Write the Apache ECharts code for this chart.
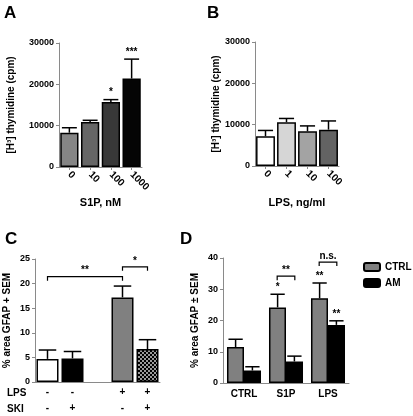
<!DOCTYPE html>
<html><head><meta charset="utf-8">
<script src="https://cdn.jsdelivr.net/npm/echarts@6/dist/echarts.min.js"></script>
<style>html,body{margin:0;padding:0;background:#fff}#c{width:413px;height:416px}</style>
</head><body><div id="c"></div>
<script>
// ---- Panel A ----
const catsA = ['0', '10', '100', '1000'];
const meanA = [8300, 10900, 15700, 21400];
const semA = [1200, 400, 600, 4700];
const starsA = ['', '', '*', '***'];
const colorsA = ['#858585', '#666666', '#383838', '#050505'];
// ---- Panel B ----
const catsB = ['0', '1', '10', '100'];
const meanB = [7200, 10600, 8400, 8800];
const semB = [1400, 900, 1300, 2100];
const colorsB = ['#ffffff', '#d6d6d6', '#a3a3a3', '#636363'];
// ---- Panel C ----
const lpsRow = ['-', '-', '', '+', '+'];
const skiRow = ['-', '+', '', '-', '+'];
const meanC = [4.7, 4.8, '-', 17.2, 6.7];
const semC = [1.8, 1.4, '-', 2.3, 1.9];
const bracketsC = [[0, 3, 21.4], [3, 4, 23.4]];
const bracketLabelsC = ['**', '*'];
// ---- Panel D ----
const catsD = ['CTRL', 'S1P', 'LPS'];
const ctrlD = [11.5, 24.2, 27.1];
const ctrlSemD = [2.5, 4.2, 4.9];
const amD = [4.0, 6.9, 18.6];
const amSemD = [1.2, 1.7, 1.3];
const starsCtrlD = ['', '*', '**'];
const starsAmD = ['', '', '**'];
const bracketsD = [[1, 34.2], [2, 38.7]];
const bracketLabelsD = ['**', 'n.s.'];

const FONT = 'Liberation Sans, Arial, sans-serif';
const AX = '#8a8a8a';

// checker pattern
const pc = document.createElement('canvas');
pc.width = 4; pc.height = 4;
const g = pc.getContext('2d');
g.fillStyle = '#9a9a9a'; g.fillRect(0, 0, 4, 4);
g.fillStyle = '#000'; g.fillRect(0, 0, 2, 2); g.fillRect(2, 2, 2, 2);
const checker = { image: pc, repeat: 'repeat' };
const colorsC = ['#ffffff', '#000000', '#ffffff', '#808080', checker];

function errRender(offset, capFrac, stars) {
  return function (params, api) {
    const x = api.value(0), v = api.value(1), e = api.value(2);
    const bw = api.size([1, 0])[0];
    const p0 = api.coord([x, v]);
    const p1 = api.coord([x, v + e]);
    const cx = p0[0] + offset * bw;
    const half = bw * capFrac / 2;
    const ch = [
      { type: 'line', shape: { x1: cx, y1: p0[1], x2: cx, y2: p1[1] }, style: { stroke: '#000', lineWidth: 1.5 } },
      { type: 'line', shape: { x1: cx - half, y1: p1[1], x2: cx + half, y2: p1[1] }, style: { stroke: '#000', lineWidth: 1.5 } }
    ];
    const s = stars ? stars[params.dataIndex] : '';
    if (s) ch.push({ type: 'text', x: cx, y: p1[1] - 2, style: { text: s, fill: '#000', font: 'bold 10px ' + FONT, align: 'center', verticalAlign: 'bottom' } });
    return { type: 'group', children: ch };
  };
}

function bracketRender(labels, mode) {
  return function (params, api) {
    let xa, xb, y;
    const bw = api.size([1, 0])[0];
    if (mode === 'pair') {
      const p = api.coord([api.value(0), api.value(1)]);
      xa = p[0] - 0.21 * bw; xb = p[0] + 0.21 * bw; y = p[1];
    } else {
      const pa = api.coord([api.value(0), api.value(2)]);
      const pb = api.coord([api.value(1), api.value(2)]);
      xa = pa[0]; xb = pb[0]; y = pa[1];
    }
    return { type: 'group', children: [
      { type: 'polyline', shape: { points: [[xa, y + 4], [xa, y], [xb, y], [xb, y + 4]] }, style: { stroke: '#000', lineWidth: 1.2, fill: null } },
      { type: 'text', x: (xa + xb) / 2, y: y - 1, style: { text: labels[params.dataIndex], fill: '#000', font: 'bold 10px ' + FONT, align: 'center', verticalAlign: 'bottom' } }
    ] };
  };
}

const grids = [
  { left: 59, top: 43, width: 83, height: 124 },
  { left: 255, top: 42, width: 84, height: 124 },
  { left: 35, top: 259, width: 125, height: 124 },
  { left: 223, top: 258, width: 126, height: 125 }
];

function yAx(i, max, interval, name, gap) {
  return {
    type: 'value', gridIndex: i, min: 0, max: max, interval: interval,
    name: name, nameLocation: 'middle', nameGap: gap,
    nameTextStyle: { fontFamily: FONT, fontWeight: 'bold', fontSize: 10, color: '#000' },
    axisLine: { show: true, lineStyle: { color: AX, width: 1 } },
    axisTick: { show: true, length: 3, lineStyle: { color: AX } },
    axisLabel: { fontFamily: FONT, fontWeight: 'bold', fontSize: 9, color: '#000', margin: 5, formatter: v => String(v) },
    splitLine: { show: false }
  };
}

const xLabelRot = { fontFamily: FONT, fontWeight: 'bold', fontSize: 10, color: '#000', rotate: -45, margin: 6 };
const xName = { fontFamily: FONT, fontWeight: 'bold', fontSize: 11, color: '#000' };

const option = {
  animation: false,
  backgroundColor: '#fff',
  grid: grids,
  legend: {
    data: ['CTRL', 'AM'], orient: 'vertical', left: 363, top: 262, padding: 0,
    itemWidth: 16, itemHeight: 8, itemGap: 6,
    textStyle: { fontFamily: FONT, fontWeight: 'bold', fontSize: 10, color: '#000' },
    selectedMode: false
  },
  xAxis: [
    { type: 'category', gridIndex: 0, data: catsA, name: 'S1P, nM', nameLocation: 'middle', nameGap: 30,
      nameTextStyle: xName,
      axisLine: { lineStyle: { color: AX } }, axisTick: { show: true, alignWithLabel: true, length: 3, lineStyle: { color: AX } },
      axisLabel: xLabelRot },
    { type: 'category', gridIndex: 1, data: catsB, name: 'LPS, ng/ml', nameLocation: 'middle', nameGap: 31,
      nameTextStyle: xName,
      axisLine: { lineStyle: { color: AX } }, axisTick: { show: true, alignWithLabel: true, length: 3, lineStyle: { color: AX } },
      axisLabel: xLabelRot },
    { type: 'category', gridIndex: 2, data: lpsRow.map((v, i) => v + '\n' + skiRow[i]),
      axisLine: { lineStyle: { color: AX } }, axisTick: { show: false },
      axisLabel: { fontFamily: FONT, fontWeight: 'bold', fontSize: 10, color: '#000', lineHeight: 16, margin: 2, interval: 0 } },
    { type: 'category', gridIndex: 3, data: catsD,
      axisLine: { lineStyle: { color: AX } }, axisTick: { show: false },
      axisLabel: { fontFamily: FONT, fontWeight: 'bold', fontSize: 10, color: '#000', margin: 6 } }
  ],
  yAxis: [
    yAx(0, 30000, 10000, '[H³] thymidine (cpm)', 43),
    yAx(1, 30000, 10000, '[H³] thymidine (cpm)', 34),
    yAx(2, 25, 5, '% area GFAP + SEM', 23),
    yAx(3, 40, 10, '% area GFAP ± SEM', 23)
  ],
  graphic: [
    { type: 'text', left: 4, top: 5, style: { text: 'A', font: 'bold 17px ' + FONT, fill: '#000' } },
    { type: 'text', left: 207, top: 5, style: { text: 'B', font: 'bold 17px ' + FONT, fill: '#000' } },
    { type: 'text', left: 5, top: 231, style: { text: 'C', font: 'bold 17px ' + FONT, fill: '#000' } },
    { type: 'text', left: 180, top: 231, style: { text: 'D', font: 'bold 17px ' + FONT, fill: '#000' } },
    { type: 'text', left: 7, top: 388, style: { text: 'LPS', font: 'bold 10px ' + FONT, fill: '#000' } },
    { type: 'text', left: 7, top: 404, style: { text: 'SKI', font: 'bold 10px ' + FONT, fill: '#000' } }
  ],
  series: [
    { type: 'bar', xAxisIndex: 0, yAxisIndex: 0, barCategoryGap: '12%',
      data: meanA.map((v, i) => ({ value: v, itemStyle: { color: colorsA[i] } })),
      itemStyle: { borderColor: '#000', borderWidth: 1.5 } },
    { type: 'custom', xAxisIndex: 0, yAxisIndex: 0, z: 5,
      data: meanA.map((v, i) => [i, v, semA[i]]), renderItem: errRender(0, 0.72, starsA) },

    { type: 'bar', xAxisIndex: 1, yAxisIndex: 1, barCategoryGap: '10%',
      data: meanB.map((v, i) => ({ value: v, itemStyle: { color: colorsB[i] } })),
      itemStyle: { borderColor: '#000', borderWidth: 1.5 } },
    { type: 'custom', xAxisIndex: 1, yAxisIndex: 1, z: 5,
      data: meanB.map((v, i) => [i, v, semB[i]]), renderItem: errRender(0, 0.72, null) },

    { type: 'bar', xAxisIndex: 2, yAxisIndex: 2, barCategoryGap: '12%',
      data: meanC.map((v, i) => ({ value: v, itemStyle: { color: colorsC[i] } })),
      itemStyle: { borderColor: '#000', borderWidth: 1.5 } },
    { type: 'custom', xAxisIndex: 2, yAxisIndex: 2, z: 5,
      data: meanC.map((v, i) => [i, v, semC[i]]).filter(d => d[1] !== '-'), renderItem: errRender(0, 0.7, null) },
    { type: 'custom', xAxisIndex: 2, yAxisIndex: 2, z: 5,
      data: bracketsC, renderItem: bracketRender(bracketLabelsC, 'span') },

    { type: 'bar', name: 'CTRL', xAxisIndex: 3, yAxisIndex: 3, barGap: '0%', barCategoryGap: '19%',
      data: ctrlD, itemStyle: { color: '#808080', borderColor: '#000', borderWidth: 1.5 } },
    { type: 'bar', name: 'AM', xAxisIndex: 3, yAxisIndex: 3, barGap: '0%', barCategoryGap: '19%',
      data: amD, itemStyle: { color: '#000000', borderColor: '#000', borderWidth: 1.5 } },
    { type: 'custom', xAxisIndex: 3, yAxisIndex: 3, z: 5,
      data: ctrlD.map((v, i) => [i, v, ctrlSemD[i]]), renderItem: errRender(-0.2, 0.34, starsCtrlD) },
    { type: 'custom', xAxisIndex: 3, yAxisIndex: 3, z: 5,
      data: amD.map((v, i) => [i, v, amSemD[i]]), renderItem: errRender(0.2, 0.34, starsAmD) },
    { type: 'custom', xAxisIndex: 3, yAxisIndex: 3, z: 5,
      data: bracketsD, renderItem: bracketRender(bracketLabelsD, 'pair') }
  ]
};

const chart = echarts.init(document.getElementById('c'), null, { renderer: 'canvas' });
chart.setOption(option);
</script>
</body></html>
